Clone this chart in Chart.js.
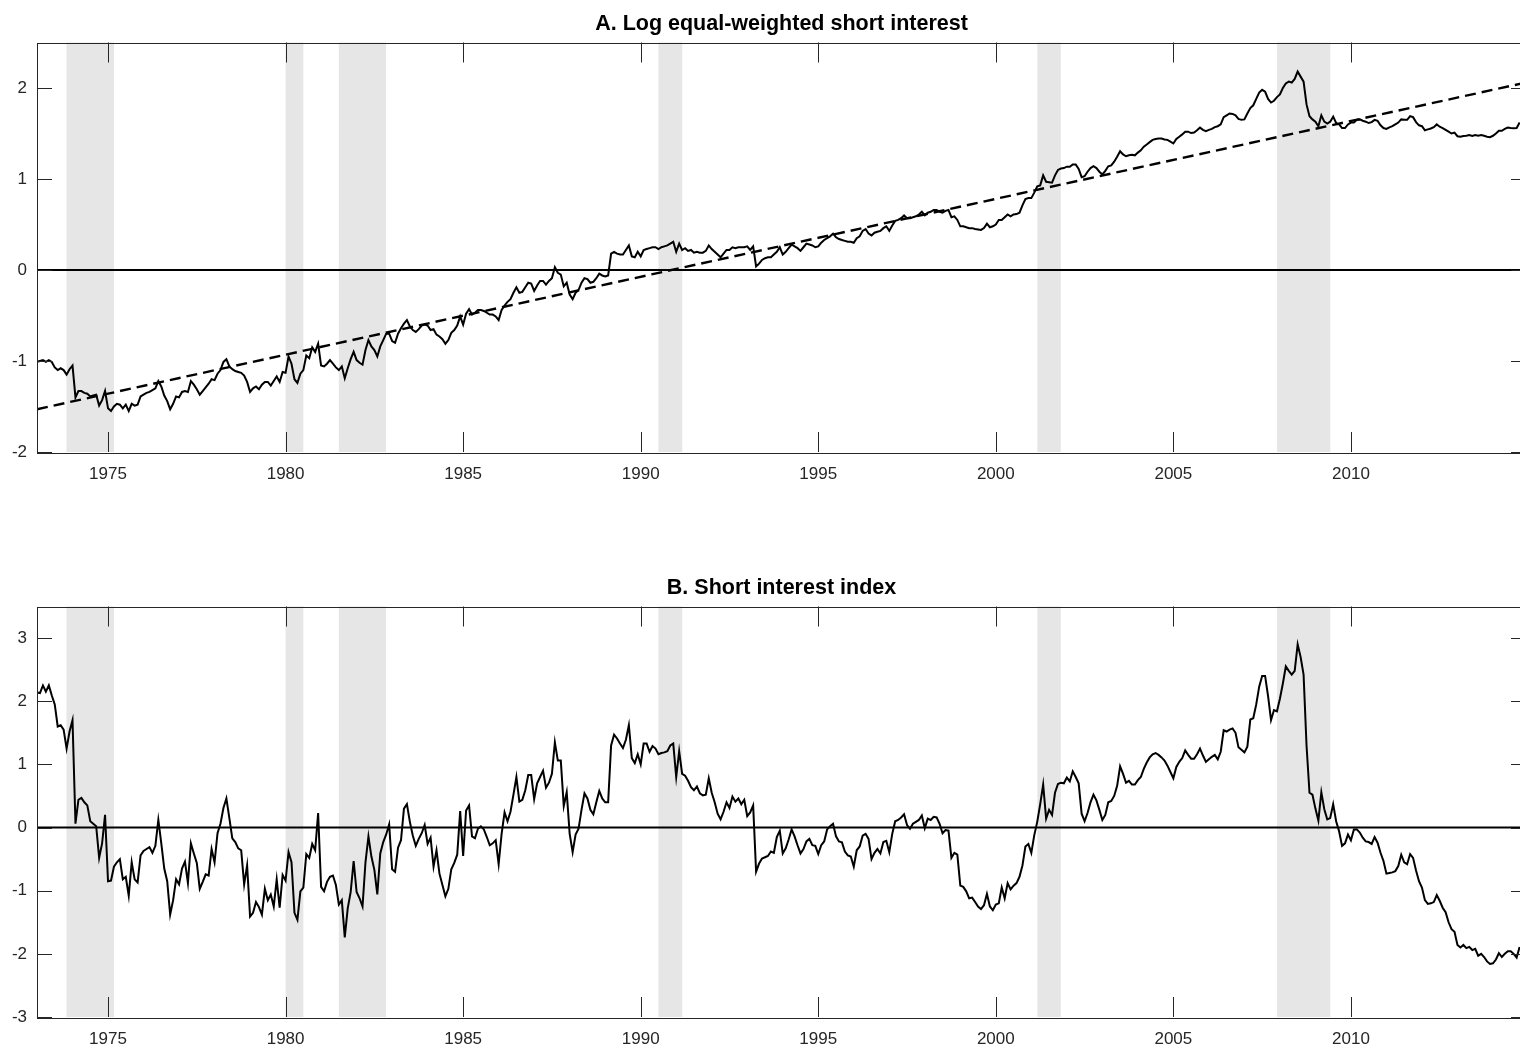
<!DOCTYPE html>
<html><head><meta charset="utf-8">
<script src="https://cdn.jsdelivr.net/npm/chart.js@4.4.1/dist/chart.umd.min.js"></script>
<style>
html,body{margin:0;padding:0;background:#fff;width:1520px;height:1050px;overflow:hidden;position:relative;}
canvas{position:absolute;left:0;}
#cA{top:0px}
#cB{top:564px}
</style></head><body>
<canvas id="cA" width="1526" height="500"></canvas>
<canvas id="cB" width="1526" height="501"></canvas>
<script>
// ---------------- data ----------------
const startYear = 1973;           // first monthly observation (Jan 1973)
const endYear = 2014.93;          // right edge of the plotting window
const xTickYears = [1975, 1980, 1985, 1990, 1995, 2000, 2005, 2010];
const yTicksA = [-2, -1, 0, 1, 2];
const yTicksB = [-3, -2, -1, 0, 1, 2, 3];
const titleA = "A. Log equal-weighted short interest";
const titleB = "B. Short interest index";
// NBER recessions [start, end] in decimal years
const recessionStarts = [1973.83, 1980.0, 1981.5, 1990.5, 2001.17, 2007.92];
const recessionEnds   = [1975.17, 1980.5, 1982.83, 1991.17, 2001.83, 2009.42];
// linear trend of panel A
const trendYears = [1973, 2014.93];
const trendValues = [-1.53, 2.06];

// Panel A: log equal-weighted short interest (monthly, from Jan 1973)
const logShortInterest = [
-1.01,-1.00,-0.99,-1.01,-0.99,-1.01,-1.07,-1.10,-1.08,-1.10,
-1.15,-1.09,-1.05,-1.40,-1.33,-1.33,-1.35,-1.36,-1.39,-1.38,
-1.37,-1.49,-1.43,-1.33,-1.52,-1.55,-1.50,-1.47,-1.48,-1.52,
-1.48,-1.55,-1.47,-1.49,-1.48,-1.39,-1.37,-1.35,-1.34,-1.32,
-1.30,-1.22,-1.28,-1.38,-1.44,-1.53,-1.47,-1.39,-1.40,-1.34,
-1.33,-1.34,-1.22,-1.26,-1.31,-1.37,-1.33,-1.29,-1.25,-1.20,
-1.21,-1.14,-1.10,-1.01,-0.98,-1.06,-1.09,-1.11,-1.12,-1.13,
-1.16,-1.23,-1.34,-1.30,-1.28,-1.31,-1.26,-1.23,-1.23,-1.27,
-1.22,-1.17,-1.23,-1.12,-1.13,-0.95,-1.03,-1.20,-1.24,-1.14,
-1.10,-0.94,-0.97,-0.85,-0.90,-0.81,-1.05,-1.06,-1.03,-0.99,
-1.03,-1.07,-1.10,-1.06,-1.19,-1.08,-0.98,-0.90,-0.99,-1.02,
-1.04,-0.88,-0.77,-0.84,-0.88,-0.95,-0.84,-0.77,-0.70,-0.70,
-0.78,-0.80,-0.70,-0.64,-0.59,-0.55,-0.62,-0.66,-0.68,-0.65,
-0.61,-0.60,-0.61,-0.66,-0.65,-0.71,-0.73,-0.76,-0.81,-0.77,
-0.69,-0.66,-0.61,-0.51,-0.60,-0.48,-0.43,-0.49,-0.47,-0.44,
-0.44,-0.45,-0.47,-0.49,-0.49,-0.51,-0.55,-0.44,-0.39,-0.35,
-0.32,-0.25,-0.19,-0.25,-0.24,-0.19,-0.14,-0.15,-0.23,-0.17,
-0.12,-0.12,-0.16,-0.12,-0.09,0.03,-0.03,-0.05,-0.18,-0.14,
-0.27,-0.32,-0.25,-0.22,-0.14,-0.09,-0.10,-0.14,-0.13,-0.09,
-0.04,-0.06,-0.07,-0.06,0.18,0.20,0.18,0.17,0.17,0.22,
0.27,0.15,0.14,0.20,0.15,0.22,0.23,0.24,0.25,0.25,
0.23,0.25,0.26,0.27,0.29,0.31,0.20,0.29,0.22,0.24,
0.21,0.22,0.19,0.20,0.19,0.19,0.21,0.27,0.23,0.20,
0.17,0.14,0.18,0.22,0.22,0.25,0.24,0.25,0.25,0.25,
0.26,0.22,0.26,0.04,0.07,0.11,0.13,0.14,0.14,0.17,
0.20,0.25,0.17,0.20,0.24,0.28,0.26,0.24,0.21,0.25,
0.29,0.28,0.27,0.25,0.26,0.30,0.33,0.35,0.37,0.40,
0.36,0.34,0.33,0.32,0.31,0.31,0.30,0.35,0.37,0.43,
0.45,0.40,0.38,0.41,0.42,0.43,0.46,0.48,0.43,0.49,
0.54,0.55,0.57,0.60,0.57,0.57,0.58,0.59,0.61,0.64,
0.60,0.63,0.64,0.66,0.66,0.64,0.63,0.65,0.66,0.58,
0.59,0.55,0.48,0.48,0.47,0.46,0.46,0.45,0.445,0.44,
0.46,0.51,0.47,0.48,0.50,0.55,0.55,0.58,0.61,0.59,
0.61,0.615,0.63,0.71,0.78,0.79,0.79,0.85,0.92,0.93,
1.04,0.97,0.965,0.96,1.04,1.10,1.115,1.12,1.135,1.135,
1.16,1.16,1.11,1.02,1.03,1.08,1.12,1.14,1.12,1.08,
1.05,1.09,1.14,1.15,1.19,1.245,1.305,1.27,1.25,1.26,
1.265,1.26,1.29,1.315,1.355,1.38,1.405,1.43,1.44,1.445,
1.445,1.435,1.43,1.41,1.39,1.44,1.465,1.49,1.52,1.52,
1.505,1.51,1.535,1.565,1.54,1.525,1.54,1.55,1.57,1.58,
1.60,1.68,1.70,1.72,1.715,1.70,1.66,1.65,1.655,1.72,
1.78,1.81,1.88,1.95,1.98,1.96,1.88,1.84,1.86,1.90,
1.93,2.00,2.05,2.07,2.06,2.10,2.18,2.125,2.07,1.82,
1.69,1.655,1.63,1.58,1.70,1.63,1.61,1.63,1.685,1.615,
1.60,1.56,1.56,1.60,1.62,1.62,1.65,1.655,1.64,1.63,
1.615,1.625,1.65,1.64,1.59,1.56,1.55,1.568,1.58,1.60,
1.62,1.655,1.65,1.65,1.69,1.68,1.625,1.59,1.58,1.535,
1.545,1.555,1.57,1.60,1.575,1.56,1.54,1.52,1.50,1.51,
1.47,1.465,1.473,1.475,1.484,1.473,1.484,1.475,1.482,1.475,
1.465,1.46,1.475,1.50,1.53,1.53,1.55,1.565,1.56,1.557,
1.56,1.62
];

// Panel B: short interest index (monthly, from Jan 1973)
const shortInterestIndex = [
2.14,2.13,2.25,2.15,2.25,2.09,1.95,1.60,1.62,1.55,
1.25,1.52,1.70,0.06,0.44,0.47,0.40,0.35,0.10,0.06,
0.02,-0.48,-0.25,0.20,-0.85,-0.84,-0.62,-0.55,-0.50,-0.82,
-0.78,-1.08,-0.55,-0.82,-0.87,-0.44,-0.37,-0.34,-0.31,-0.40,
-0.29,0.12,-0.25,-0.65,-0.85,-1.38,-1.15,-0.82,-0.90,-0.65,
-0.54,-0.88,-0.25,-0.41,-0.56,-0.97,-0.86,-0.74,-0.76,-0.34,
-0.55,-0.09,0.06,0.31,0.46,0.15,-0.17,-0.23,-0.33,-0.36,
-0.90,-0.60,-1.41,-1.35,-1.18,-1.26,-1.38,-0.97,-1.15,-1.06,
-1.25,-0.82,-1.27,-0.75,-0.84,-0.39,-0.55,-1.35,-1.46,-1.01,
-0.95,-0.42,-0.48,-0.26,-0.36,0.23,-0.94,-1.01,-0.86,-0.78,
-0.76,-0.91,-1.22,-1.15,-1.74,-1.28,-1.02,-0.53,-1.02,-1.12,
-1.25,-0.55,-0.14,-0.46,-0.67,-1.06,-0.41,-0.23,-0.11,0.05,
-0.66,-0.70,-0.32,-0.20,0.30,0.37,0.09,-0.13,-0.29,-0.18,
-0.09,0.04,-0.26,-0.16,-0.62,-0.36,-0.73,-0.91,-1.09,-0.97,
-0.66,-0.56,-0.43,0.26,-0.45,0.27,0.35,-0.14,-0.17,-0.02,
0.02,-0.03,-0.15,-0.28,-0.25,-0.20,-0.58,-0.10,0.24,0.10,
0.25,0.52,0.80,0.41,0.44,0.59,0.83,0.83,0.45,0.70,
0.80,0.90,0.63,0.71,0.85,1.35,1.06,1.06,0.34,0.56,
-0.10,-0.39,-0.11,-0.02,0.28,0.54,0.46,0.28,0.21,0.40,
0.58,0.46,0.40,0.40,1.30,1.47,1.41,1.33,1.26,1.39,
1.62,1.10,1.02,1.16,1.00,1.33,1.33,1.20,1.29,1.25,
1.16,1.18,1.19,1.21,1.30,1.33,0.80,1.21,0.85,0.82,
0.74,0.64,0.59,0.65,0.54,0.51,0.52,0.78,0.55,0.40,
0.22,0.13,0.25,0.40,0.31,0.49,0.41,0.46,0.37,0.44,
0.18,0.24,0.35,-0.70,-0.57,-0.49,-0.47,-0.45,-0.38,-0.40,
-0.15,-0.05,-0.41,-0.33,-0.19,-0.03,-0.14,-0.28,-0.41,-0.34,
-0.22,-0.18,-0.28,-0.29,-0.42,-0.28,-0.22,-0.03,0.02,0.06,
-0.14,-0.22,-0.235,-0.38,-0.44,-0.46,-0.62,-0.36,-0.30,-0.13,
-0.10,-0.18,-0.50,-0.40,-0.34,-0.41,-0.23,-0.21,-0.39,-0.10,
0.10,0.12,0.16,0.21,0.04,-0.02,0.06,0.09,0.12,0.19,
-0.01,0.14,0.12,0.17,0.16,0.06,-0.09,-0.04,-0.05,-0.48,
-0.40,-0.43,-0.92,-0.94,-1.01,-1.12,-1.11,-1.18,-1.25,-1.29,
-1.23,-1.05,-1.25,-1.31,-1.22,-1.20,-0.95,-1.12,-0.88,-0.98,
-0.92,-0.88,-0.78,-0.60,-0.30,-0.26,-0.40,-0.12,0.09,0.37,
0.68,0.14,0.28,0.20,0.55,0.69,0.71,0.70,0.79,0.73,
0.89,0.80,0.70,0.22,0.10,0.23,0.40,0.52,0.43,0.28,
0.12,0.20,0.40,0.42,0.50,0.66,0.97,0.85,0.71,0.74,
0.68,0.68,0.75,0.80,0.93,1.03,1.11,1.16,1.18,1.15,
1.11,1.06,0.98,0.88,0.78,0.96,1.04,1.10,1.22,1.15,
1.09,1.09,1.16,1.25,1.14,1.04,1.08,1.12,1.15,1.08,
1.20,1.54,1.52,1.55,1.57,1.50,1.27,1.23,1.19,1.28,
1.71,1.73,1.95,2.23,2.40,2.40,2.08,1.70,1.86,1.84,
2.04,2.28,2.55,2.48,2.42,2.48,2.90,2.70,2.42,1.30,
0.55,0.52,0.30,0.11,0.56,0.29,0.13,0.15,0.37,0.10,
-0.06,-0.29,-0.25,-0.11,-0.20,-0.03,-0.03,-0.08,-0.16,-0.22,
-0.23,-0.26,-0.15,-0.24,-0.40,-0.53,-0.73,-0.72,-0.71,-0.69,
-0.61,-0.43,-0.55,-0.58,-0.42,-0.48,-0.68,-0.85,-0.95,-1.15,
-1.21,-1.20,-1.18,-1.07,-1.16,-1.27,-1.34,-1.50,-1.61,-1.65,
-1.86,-1.90,-1.86,-1.91,-1.89,-1.94,-1.92,-2.03,-2.00,-2.05,
-2.12,-2.16,-2.15,-2.09,-1.99,-2.05,-2.00,-1.96,-1.96,-2.00,
-2.06,-1.89
];

// monthly dates for the observations
const monthDates = logShortInterest.map((_, i) => startYear + i / 12);

// ---------------- drawing ----------------
const FONT = '"Liberation Sans", Arial, Helvetica, sans-serif';
Chart.defaults.font.family = FONT;
Chart.defaults.color = '#262626';

const frame = {
  id: 'frame',
  beforeDatasetsDraw(chart) {
    const {ctx, chartArea: a, scales: {x, y}} = chart;
    ctx.save();
    ctx.fillStyle = '#e6e6e6';
    recessionStarts.forEach((s, k) => {
      const x0 = x.getPixelForValue(s), x1 = x.getPixelForValue(recessionEnds[k]);
      ctx.fillRect(x0, a.top, x1 - x0, a.bottom - a.top);
    });
    // zero line
    const y0 = y.getPixelForValue(0);
    ctx.strokeStyle = '#000';
    ctx.lineWidth = 2;
    ctx.beginPath(); ctx.moveTo(a.left, y0); ctx.lineTo(a.right, y0); ctx.stroke();
    ctx.restore();
  },
  afterDatasetsDraw(chart) {
    const {ctx, chartArea: a, scales: {x, y}} = chart;
    ctx.save();
    ctx.strokeStyle = '#262626';
    ctx.lineWidth = 1;
    ctx.beginPath();
    xTickYears.forEach(v => {
      const px = Math.round(x.getPixelForValue(v)) + 0.5;
      ctx.moveTo(px, a.bottom); ctx.lineTo(px, a.bottom - 20);
      ctx.moveTo(px, a.top); ctx.lineTo(px, a.top + 20);
    });
    chart.options.scales.y.tickValues.forEach(v => {
      const py = Math.round(y.getPixelForValue(v)) + 0.5;
      ctx.moveTo(a.left, py); ctx.lineTo(a.left + 15, py);
      ctx.moveTo(a.right, py); ctx.lineTo(a.right - 15, py);
    });
    ctx.stroke();
    ctx.strokeRect(Math.round(a.left) + 0.5, Math.round(a.top) + 0.5,
                   Math.round(a.right - a.left), Math.round(a.bottom - a.top));
    ctx.restore();
  }
};

function makeChart(id, title, values, yMin, yMax, yTicks, withTrend) {
  const datasets = [{
    data: values.map((v, i) => ({x: monthDates[i], y: v})),
    borderColor: '#000', borderWidth: 2, pointRadius: 0, tension: 0, fill: false
  }];
  if (withTrend) {
    datasets.push({
      data: trendYears.map((t, i) => ({x: t, y: trendValues[i]})),
      borderColor: '#000', borderWidth: 2.4, borderDash: [11, 6], pointRadius: 0, fill: false
    });
  }
  return new Chart(document.getElementById(id), {
    type: 'line',
    data: {datasets},
    plugins: [frame],
    options: {
      responsive: false, animation: false, events: [],
      layout: {padding: 0},
      plugins: {
        legend: {display: false}, tooltip: {enabled: false},
        title: {display: true, fullSize: false, text: title, color: '#000',
                font: {size: 21.5, weight: 'bold', family: FONT, lineHeight: 1.2},
                padding: {top: 11.2, bottom: 5.5}}
      },
      scales: {
        x: {
          type: 'linear', min: startYear, max: endYear,
          afterBuildTicks: s => { s.ticks = xTickYears.map(v => ({value: v})); },
          afterFit: s => { s.height = 48; },
          ticks: {callback: v => String(v), padding: 12, font: {size: 17}, color: '#262626',
                  maxRotation: 0, autoSkip: false},
          grid: {display: false, drawTicks: false}, border: {display: false}
        },
        y: {
          type: 'linear', min: yMin, max: yMax, tickValues: yTicks,
          afterBuildTicks: s => { s.ticks = yTicks.map(v => ({value: v})); },
          afterFit: s => { s.width = 37; },
          ticks: {callback: v => String(v), padding: 10, font: {size: 17}, color: '#262626'},
          grid: {display: false, drawTicks: false}, border: {display: false}
        }
      }
    }
  });
}

makeChart('cA', titleA, logShortInterest, -2, 2.5, yTicksA, true);
makeChart('cB', titleB, shortInterestIndex, -3, 3.5, yTicksB, false);
</script>
</body></html>
